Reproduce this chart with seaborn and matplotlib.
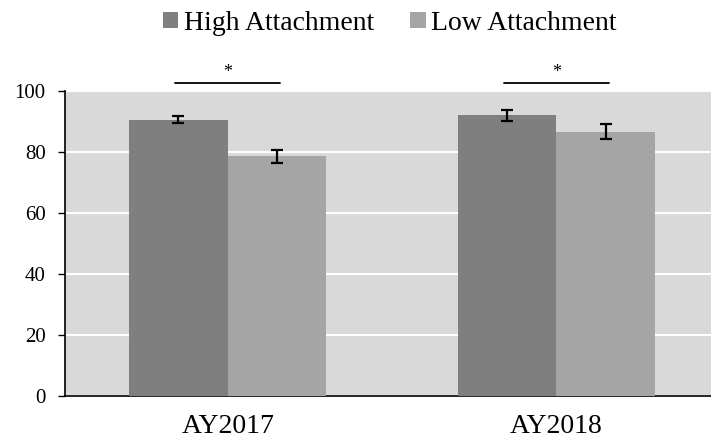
import matplotlib
matplotlib.use("Agg")
import matplotlib.pyplot as plt
import seaborn as sns
import pandas as pd

years = ["AY2017", "AY2018"]
groups = ["High Attachment", "Low Attachment"]
high_means = [90.6, 92.0]
low_means = [78.6, 86.7]
high_err = [1.2, 1.9]
low_err = [2.1, 2.6]
sig_labels = ["*", "*"]
colors = ["#7f7f7f", "#a5a5a5"]

df = pd.DataFrame({
    "year": years * 2,
    "group": [groups[0]] * 2 + [groups[1]] * 2,
    "score": high_means + low_means,
    "err": high_err + low_err,
})

sns.set_style("white")
plt.rcParams["font.family"] = ["Liberation Serif", "DejaVu Serif"]
plt.rcParams["text.color"] = "black"
plt.rcParams["xtick.color"] = "black"
plt.rcParams["ytick.color"] = "black"

fig = plt.figure(figsize=(7.11, 4.48), dpi=100)
ax = fig.add_axes([0.0914, 0.116, 0.9086, 0.681])
ax.set_facecolor("#d9d9d9")

sns.barplot(data=df, x="year", y="score", hue="group", order=years,
            hue_order=groups, palette=colors, width=0.6, errorbar=None,
            saturation=1, linewidth=0, edgecolor="none", ax=ax, zorder=3)

# error bars placed on each bar's centre
for container, g in zip(ax.containers, groups):
    sub = df[df["group"] == g].set_index("year").loc[years]
    xs = [p.get_x() + p.get_width() / 2 for p in container.patches]
    ax.errorbar(xs, sub["score"], yerr=sub["err"], fmt="none", ecolor="black",
                elinewidth=1.6, capsize=4, capthick=1.6, zorder=4)

ax.set_ylim(0, 100)
ax.set_xlim(-0.495, 1.47)
ax.set_yticks([0, 20, 40, 60, 80, 100])
ax.yaxis.grid(True, color="white", linewidth=1.5, zorder=0)
ax.set_axisbelow(True)
ax.set_xlabel("")
ax.set_ylabel("")

for s in ["top", "right"]:
    ax.spines[s].set_visible(False)
for s in ["left", "bottom"]:
    ax.spines[s].set_color("black")
    ax.spines[s].set_linewidth(1.2)
ax.tick_params(axis="y", direction="out", length=5, width=1,
               labelsize=15, pad=9, left=True)
ax.tick_params(axis="x", length=0, labelsize=20, pad=13)

# significance markers
for i, lab in enumerate(sig_labels):
    ax.plot([i - 0.16, i + 0.16], [102.6, 102.6], color="black", lw=1.3,
            clip_on=False, zorder=5)
    ax.text(i, 103.4, lab, ha="center", va="bottom", fontsize=13,
            clip_on=False)

handles, labels = ax.get_legend_handles_labels()
ax.legend(handles, labels, loc="center", bbox_to_anchor=(0.503, 1.222),
          ncol=2, frameon=False, fontsize=20, handlelength=0.55,
          handleheight=0.55, handletextpad=0.2, columnspacing=1.3,
          borderpad=0.2)

fig.savefig("out.png", dpi=100)
